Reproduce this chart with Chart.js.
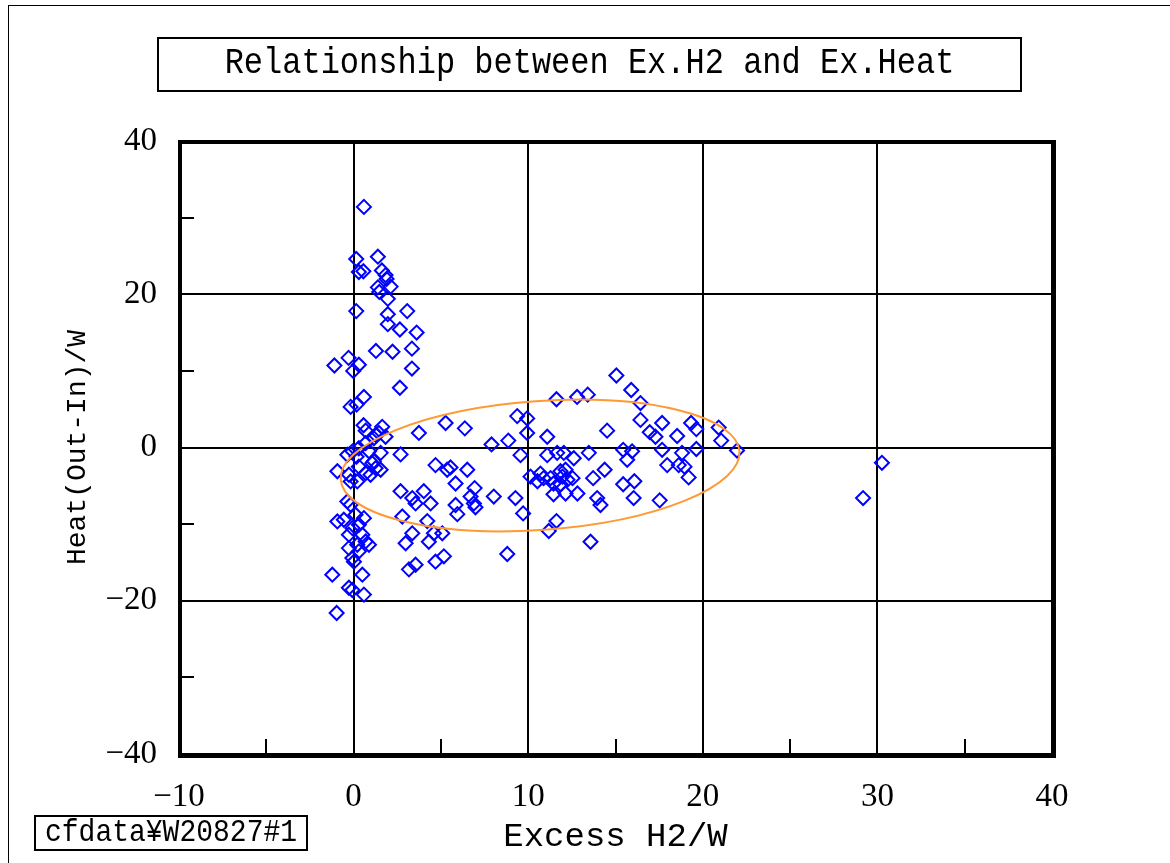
<!DOCTYPE html>
<html>
<head>
<meta charset="utf-8">
<script src="https://cdn.jsdelivr.net/npm/chart.js@4.4.0/dist/chart.umd.min.js"></script>
<style>
  body { margin: 0; background: #fff; }
  #wrap { position: relative; width: 1170px; height: 863px; overflow: hidden; }
  #title {
    position: absolute; left: 157px; top: 37px; width: 865px; height: 55px;
    border: 2px solid #000; box-sizing: border-box; text-align: center;
    font: 32px "Liberation Mono", monospace; line-height: 50px; color: #000;
  }
  #title span { display: inline-block; transform: scaleY(1.15); }
  #source {
    position: absolute; left: 34px; top: 815px; width: 274px; height: 36px;
    border: 2px solid #000; box-sizing: border-box;
    font: 28px "Liberation Mono", monospace; line-height: 32px; padding-left: 9px; color: #000;
  }
  #source span { display: inline-block; transform: scaleY(1.12); }
</style>
</head>
<body>
<div id="wrap">
  <canvas id="chart" width="1170" height="863"></canvas>
  <div id="title"><span>Relationship between Ex.H2 and Ex.Heat</span></div>
  <div id="source"><span>cfdata¥W20827#1</span></div>
</div>
<script>
// Excess H2 (W) and heat out-in (W)
var excessH2 = [
  0.59, 0.15, 1.39, 0.30, 0.56, 1.62, 1.83, 1.89, 2.12, 1.39, 1.47, 1.96, 0.15, 3.07, 1.96, 1.96,
  2.65, 3.61, 1.28, 2.23, 3.34, -0.29, -1.10, 0.30, -0.02, 3.34, 2.65, 0.59, -0.17, 0.17, 0.57, 0.69,
  1.64, 1.45, 1.83, 3.74, 5.27, 2.69, 1.55,
  -0.36, 0.30, 0.69, 1.16, 1.26, -0.06, 0.17, 0.88, 1.16, -0.93, 1.55, 0.30, 0.69, 0.97, 1.26, 1.07,
  -0.17, 0.21, -0.27, 4.69, 5.36, 2.69, 3.36, 3.55, 4.02, 4.41, -0.36, -0.17, 2.79, 4.22, -0.93, -0.56,
  0.11, 0.59, 0.30, -0.07, -0.27, 0.50, 0.69, 0.21, -0.27, 0.30, -0.07, 0.88, 3.36, 2.98, 4.31, 5.08,
  4.69, 5.17, 0.02, 3.55, 3.17, -1.22, 0.50, -0.27, -0.07, 0.59, -0.97,
  11.62, 12.80, 13.41, 6.37, 9.37, 9.94, 9.94, 11.09, 8.86, 7.90, 9.56, 5.55, 6.51, 11.09, 11.66, 12.04,
  12.61, 10.13, 10.70, 10.88, 10.53, 11.28, 11.45, 11.85, 12.14, 11.96, 12.25, 12.54, 11.85, 11.45, 12.14, 12.82,
  5.84, 6.93, 5.84, 5.94, 6.70, 6.89, 6.98, 8.03, 9.27, 9.71, 11.18, 11.62, 8.80, 4.60,
  15.05, 15.90, 16.43, 16.43, 17.67, 14.52, 16.96, 17.29, 18.53, 19.33, 19.63, 20.91, 21.05, 21.96, 19.63, 17.67,
  18.81, 15.44, 15.95, 15.67, 13.47, 17.96, 18.62, 18.95, 19.19, 14.38, 13.72, 15.44, 16.08, 13.95, 14.14, 16.04,
  17.53, 13.57, 30.26, 29.18
];
var heat = [
  31.4, 24.6, 24.9, 22.9, 23.0, 23.1, 22.5, 22.0, 21.0, 20.9, 20.3, 19.4, 17.8, 17.8, 17.4, 16.1,
  15.4, 15.0, 12.6, 12.5, 12.9, 11.7, 10.7, 10.8, 10.0, 10.3, 7.8, 6.6, 5.3, 5.6, 2.9, 2.2,
  2.7, 1.9, 1.4, 1.9, 3.2, -0.9, -0.7,
  -0.95, -0.1, 0.56, 1.2, 1.65, -0.5, -1.2, -0.5, -1.8, -3.1, -2.9, -2.5, -3.35, -3.56, -2.7, -2.05,
  -4.43, -4.43, -3.56, -2.3, -2.9, -5.7, -6.6, -7.3, -5.7, -7.3, -7.04, -7.47, -9.0, -9.6, -9.65, -9.43,
  -8.77, -9.22, -10.08, -10.52, -11.38, -11.38, -12.26, -12.69, -13.13, -13.56, -14.43, -12.69, -11.2, -12.5, -12.3, -11.2,
  -14.9, -14.2, -14.9, -15.3, -15.9, -16.6, -16.6, -18.3, -18.6, -19.2, -21.6,
  6.3, 6.6, 6.9, 2.5, 4.1, 3.8, 1.9, 1.4, 0.9, 0.4, -1.0, -2.6, -2.9, -1.0, -0.7, -0.7,
  -1.4, -3.8, -3.4, -4.0, -4.4, -4.0, -4.7, -3.1, -2.9, -3.8, -4.2, -4.0, -4.8, -6.1, -6.0, -6.0,
  -4.7, -5.3, -7.5, -8.7, -6.4, -7.3, -7.8, -6.4, -6.6, -8.6, -10.9, -9.6, -13.9, -11.2,
  9.4, 7.5, 5.8, 3.6, 3.2, 2.2, 2.0, 1.4, 1.5, 3.2, 2.4, 2.6, 0.9, -0.4, -0.2, -0.3,
  -0.7, -0.3, -0.5, -1.6, -0.7, -2.3, -2.3, -2.5, -3.9, -2.9, -4.0, -4.8, -4.4, -6.6, -7.5, -6.6,
  -6.9, -12.3, -2.0, -6.6
];

// axis ranges and ticks
var xRange = [-10, 40];
var yRange = [-40, 40];
var xMajor = 10, xMinor = 5;
var yMajor = 20, yMinor = 10;

// hand drawn ellipse: ends of the long axis and half height (data units)
var ellipseLeft = [-0.74, -4.2];
var ellipseRight = [22.1, -0.5];
var ellipseHalfHeight = 8.4;

var points = [];
for (var i = 0; i < excessH2.length; i++) {
  points.push({ x: excessH2[i], y: heat[i] });
}

function minusSign(v) {
  return String(v).replace('-', '\u2212');
}

var framePlugin = {
  id: 'frame',
  afterDatasetsDraw: function (chart) {
    var ctx = chart.ctx;
    var xs = chart.scales.x, ys = chart.scales.y;
    var a = chart.chartArea;

    // orange ellipse
    var x1 = xs.getPixelForValue(ellipseLeft[0]), y1 = ys.getPixelForValue(ellipseLeft[1]);
    var x2 = xs.getPixelForValue(ellipseRight[0]), y2 = ys.getPixelForValue(ellipseRight[1]);
    var rx = Math.sqrt((x2 - x1) * (x2 - x1) + (y2 - y1) * (y2 - y1)) / 2;
    var ry = Math.abs(ys.getPixelForValue(0) - ys.getPixelForValue(ellipseHalfHeight));
    ctx.save();
    ctx.strokeStyle = '#ff9933';
    ctx.lineWidth = 2;
    ctx.beginPath();
    ctx.ellipse((x1 + x2) / 2, (y1 + y2) / 2, rx, ry, Math.atan2(y2 - y1, x2 - x1), 0, Math.PI * 2);
    ctx.stroke();

    // minor ticks pointing inwards
    ctx.strokeStyle = '#000';
    ctx.lineWidth = 2;
    ctx.beginPath();
    for (var v = xRange[0] + xMinor; v < xRange[1]; v += xMajor) {
      var px = Math.round(xs.getPixelForValue(v));
      ctx.moveTo(px, a.bottom);
      ctx.lineTo(px, a.bottom - 15);
    }
    for (var w = yRange[0] + yMinor; w < yRange[1]; w += yMajor) {
      var py = Math.round(ys.getPixelForValue(w));
      ctx.moveTo(a.left, py);
      ctx.lineTo(a.left + 15, py);
    }
    ctx.stroke();

    // heavy plot frame
    ctx.lineWidth = 4;
    ctx.strokeRect(a.left + 1, a.top + 1, a.right - a.left + 1, a.bottom - a.top + 1);

    // outer page frame
    ctx.lineWidth = 1;
    ctx.strokeRect(8.5, 5.5, 1300, 1000);
    ctx.restore();
  }
};

var chart = new Chart(document.getElementById('chart'), {
  type: 'scatter',
  data: {
    datasets: [{
      data: points,
      pointStyle: 'rectRot',
      pointRadius: 7,
      pointBorderWidth: 2,
      pointBorderColor: '#0000ff',
      pointBackgroundColor: 'rgba(0,0,0,0)',
      pointHoverRadius: 7
    }]
  },
  options: {
    responsive: false,
    animation: false,
    events: [],
    layout: { padding: { left: 0, top: 141, right: 118, bottom: 0 } },
    plugins: {
      legend: { display: false },
      tooltip: { enabled: false }
    },
    scales: {
      x: {
        type: 'linear',
        min: xRange[0],
        max: xRange[1],
        afterFit: function (s) { s.height = 109; },
        border: { display: false },
        grid: { color: '#000', lineWidth: 2, drawTicks: false },
        ticks: {
          stepSize: xMajor,
          padding: 24,
          color: '#000',
          font: { family: 'Liberation Serif', size: 33 },
          callback: function (v) { return minusSign(v); }
        },
        title: {
          display: true,
          text: 'Excess H2/W',
          color: '#000',
          font: { family: 'Liberation Mono', size: 34 },
          padding: { top: 0, bottom: 6 }
        }
      },
      y: {
        type: 'linear',
        min: yRange[0],
        max: yRange[1],
        afterFit: function (s) { s.width = 179; },
        border: { display: false },
        grid: { color: '#000', lineWidth: 2, drawTicks: false },
        ticks: {
          stepSize: yMajor,
          padding: 22,
          color: '#000',
          font: { family: 'Liberation Serif', size: 33 },
          callback: function (v) { return minusSign(v); }
        },
        title: {
          display: true,
          text: 'Heat(Out-In)/W',
          color: '#000',
          font: { family: 'Liberation Mono', size: 28 },
          padding: { top: 61, bottom: 0 }
        }
      }
    }
  },
  plugins: [framePlugin]
});
</script>
</body>
</html>
